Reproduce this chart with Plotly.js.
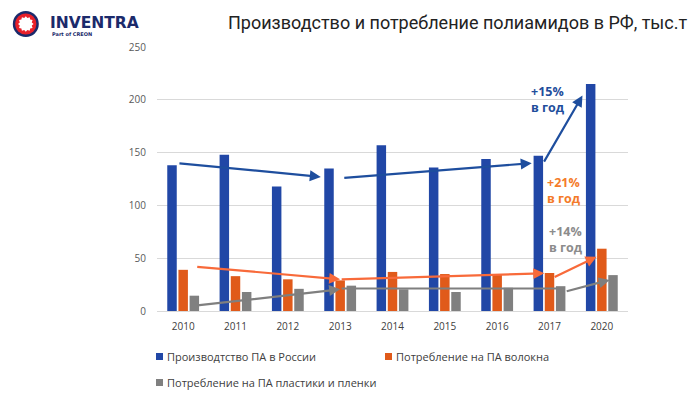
<!DOCTYPE html>
<html>
<head>
<meta charset="utf-8">
<script src="https://cdn.plot.ly/plotly-3.0.1.min.js"></script>
<style>html,body{margin:0;padding:0;background:#fff;}#chart{width:700px;height:395px;}</style>
</head>
<body>
<div id="chart"></div>
<script>
// ---- data ----
const years = ["2010","2011","2012","2013","2014","2015","2016","2017","2020"];
const production = [138, 148, 118, 135, 157, 136, 144, 147, 215];
const fiberUse = [39, 33, 30, 29, 37, 35, 35, 36, 59];
const plasticUse = [14.5, 18, 21, 24, 20.5, 18, 22, 23.5, 34];
const seriesNames = ["Производтство ПА в России", "Потребление на ПА волокна", "Потребление на ПА пластики и пленки"];
const growthLabels = ["+15%<br>в год", "+21%<br>в год", "+14%<br>в год"];
const titleText = "Производство и потребление полиамидов в РФ, тыс.т";

// trend arrows: [x0, y0, x1, y1, hasHead] in category-index / value units
const blueTrend = [[-0.1, 140, 2.63, 127, 1], [3.05, 126, 6.66, 140, 1], [6.88, 140, 7.63, 204, 1]];
const orangeTrend = [[0.24, 42, 3.0, 30, 1], [3.0, 30, 6.9, 35.7, 1], [7.07, 31.5, 7.9, 51.4, 1]];
const grayTrend = [[0.24, 5.1, 3.0, 20.5, 1], [3.0, 21.3, 7.2, 21.3, 0], [7.3, 18.3, 8.15, 29.4, 1]];
const growthPos = [[6.97, 200], [7.27, 114], [7.31, 67.5]];

// ---- styling ----
const C_BLUE = "#2147A6", C_ORANGE = "#E05A1A", C_GRAY = "#808080";
const A_BLUE = "#1E4E9E", A_ORANGE = "#F86A3A", A_GRAY = "#7F7F7F";
const T_BLUE = "#1F4E9C", T_ORANGE = "#F47B2A", T_GRAY = "#8C8C8C";

const M = {l: 157, r: 72, t: 47, b: 84};
const W = 700 - M.l - M.r, H = 395 - M.t - M.b;
const px = x => (x - M.l) / W;
const py = y => (395 - M.b - y) / H;

const traces = [
  {type: "bar", x: years, y: production, name: seriesNames[0], marker: {color: C_BLUE}},
  {type: "bar", x: years, y: fiberUse, name: seriesNames[1], marker: {color: C_ORANGE}},
  {type: "bar", x: years, y: plasticUse, name: seriesNames[2], marker: {color: C_GRAY}}
];

const annotations = [];
function addTrend(list, color) {
  list.forEach(s => {
    annotations.push({
      x: s[2], y: s[3], ax: s[0], ay: s[1], xref: "x", yref: "y", axref: "x", ayref: "y",
      text: "", showarrow: true, arrowhead: s[4] ? 2 : 0, arrowsize: 1, arrowwidth: 2.2, arrowcolor: color
    });
  });
}
addTrend(blueTrend, A_BLUE);
addTrend(orangeTrend, A_ORANGE);
addTrend(grayTrend, A_GRAY);

[T_BLUE, T_ORANGE, T_GRAY].forEach((c, i) => {
  annotations.push({
    x: growthPos[i][0], y: growthPos[i][1], xref: "x", yref: "y", text: "<b>" + growthLabels[i] + "</b>",
    showarrow: false, xanchor: "center", yanchor: "middle", align: "left",
    font: {family: "Open Sans, sans-serif", size: 12.5, color: c}
  });
});

// legend (manual)
const legendPos = [[156, 356.5], [385, 356.5], [156, 382.5]];
const legendColors = [C_BLUE, C_ORANGE, C_GRAY];
const shapes = [];
seriesNames.forEach((n, i) => {
  const [lx, ly] = legendPos[i];
  shapes.push({type: "rect", xref: "paper", yref: "paper", x0: px(lx), x1: px(lx + 7), y0: py(ly + 3.5), y1: py(ly - 3.5),
    fillcolor: legendColors[i], line: {width: 0}});
  annotations.push({x: px(lx + 9), y: py(ly), xref: "paper", yref: "paper", text: n, showarrow: false,
    xanchor: "left", yanchor: "middle", font: {family: "Open Sans, sans-serif", size: 11, color: "#404040"}});
});

// logo
const cx = 25.8, cy = 24;
function circ(r, color) {
  shapes.push({type: "circle", xref: "paper", yref: "paper", x0: px(cx - r), x1: px(cx + r), y0: py(cy + r), y1: py(cy - r),
    fillcolor: color, line: {width: 0}});
}
circ(13, "#1B2A6B");
circ(10.6, "#E8202A");
let gp = "";
const teeth = 12;
for (let k = 0; k < teeth * 2; k++) {
  const a = Math.PI * k / teeth;
  const r = (k % 2 === 0) ? 7.8 : 6.2;
  gp += (k === 0 ? "M " : " L ") + px(cx + r * Math.cos(a)) + "," + py(cy + r * Math.sin(a));
}
gp += " Z";
shapes.push({type: "path", xref: "paper", yref: "paper", path: gp, fillcolor: "#ffffff", line: {width: 0}});
annotations.push({x: px(48), y: py(22.5), xref: "paper", yref: "paper", text: "<b>INVENTRA</b>", showarrow: false,
  xanchor: "left", yanchor: "middle", font: {family: "DejaVu Sans, sans-serif", size: 15.5, color: "#1B2A6B"}});
annotations.push({x: px(50), y: py(33.5), xref: "paper", yref: "paper", text: "<b>Part of CREON</b>", showarrow: false,
  xanchor: "left", yanchor: "middle", font: {family: "DejaVu Sans, sans-serif", size: 5, color: "#1B2A6B"}});

const layout = {
  width: 700, height: 395,
  margin: M,
  paper_bgcolor: "#ffffff", plot_bgcolor: "#ffffff",
  showlegend: false,
  barmode: "group", bargap: 0.36, bargroupgap: 0.15,
  title: {text: titleText, x: 228 / 700, xanchor: "left", xref: "container", y: 1 - 23 / 395, yanchor: "middle", yref: "container",
    font: {family: "Roboto, sans-serif", size: 18, color: "#222222"}},
  xaxis: {type: "category", showgrid: false, zeroline: false, showline: true, linecolor: "#d9d9d9", linewidth: 1,
    ticks: "", ticklabelstandoff: 6, tickfont: {family: "Open Sans, sans-serif", size: 10, color: "#404040"}, fixedrange: true},
  yaxis: {range: [0, 250], tickvals: [0, 50, 100, 150, 200, 250], showgrid: true, gridcolor: "#d9d9d9", gridwidth: 1,
    zeroline: false, showline: false, ticks: "", ticklabelstandoff: 10,
    tickfont: {family: "Open Sans, sans-serif", size: 10, color: "#595959"}, fixedrange: true},
  annotations: annotations,
  shapes: shapes
};

Plotly.newPlot("chart", traces, layout, {displayModeBar: false, staticPlot: true});
</script>
</body>
</html>
